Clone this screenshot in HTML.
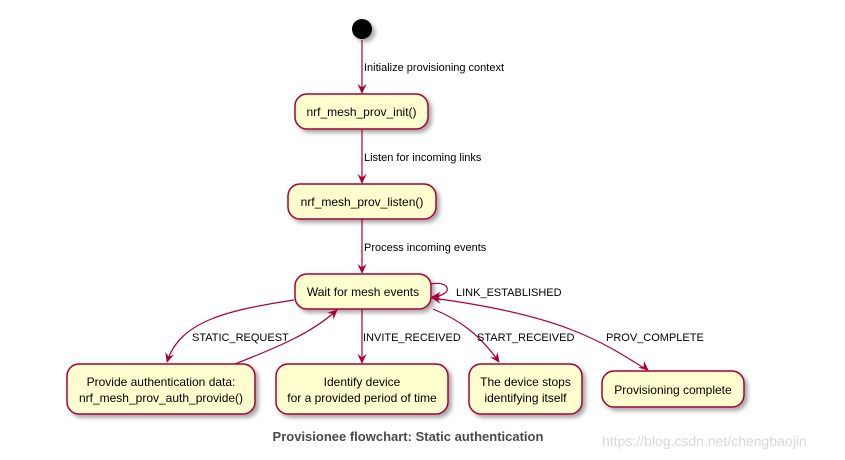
<!DOCTYPE html>
<html><head><meta charset="utf-8"><style>
html,body{margin:0;padding:0;background:#fff;width:845px;height:460px;overflow:hidden}
svg{display:block}
text{font-family:"Liberation Sans",sans-serif;font-size:11px;fill:#000}
.n{font-size:12px}
</style></head><body>
<svg width="845" height="460" viewBox="0 0 845 460">
<defs>
<filter id="sh" x="-20%" y="-20%" width="140%" height="160%"><feDropShadow dx="3" dy="3" stdDeviation="2" flood-color="#000" flood-opacity="0.35"/></filter>
<marker id="a" viewBox="0 0 12 12" refX="10" refY="6" markerWidth="11" markerHeight="11" orient="auto" markerUnits="userSpaceOnUse"><path d="M0,1 L11,6 L0,11 L4,6 Z" fill="#A80036"/></marker>
</defs>
<g fill="#FEFECE" stroke="#A80036" stroke-width="1.5" filter="url(#sh)">
<circle cx="362" cy="29" r="10" fill="#000" stroke="none"/>
<rect x="295" y="94" width="133" height="35" rx="12"/>
<rect x="288" y="184" width="148" height="35" rx="12"/>
<rect x="295" y="274" width="136" height="35" rx="12"/>
<rect x="67" y="364" width="188" height="50" rx="12"/>
<rect x="276" y="364" width="172" height="50" rx="12"/>
<rect x="469" y="364" width="113" height="50" rx="12"/>
<rect x="602" y="371" width="142" height="36" rx="12"/>
</g>
<g stroke="#A80036" stroke-width="1.2" fill="none" marker-end="url(#a)">
<path d="M362,40 L362,93"/>
<path d="M362,129 L362,183"/>
<path d="M362,219 L362,273"/>
<path d="M362,309 L362,363"/>
<path d="M431,284 C450,280 455,295 432,297"/>
<path d="M294,300 C230,310 180,320 167,362"/>
<path d="M235,364 C270,350 310,335 337,310"/>
<path d="M433,309 C460,320 480,335 499,362"/>
<path d="M647,370 C600,340 560,315 432,298"/>
<path d="M450,300 C540,310 600,330 648,370" marker-end="url(#a)" stroke="none"/>
</g>
<path d="M440,299 L432,298 L439,294" stroke="#A80036" fill="none" stroke-width="1.2"/>
<text x="364" y="71">Initialize provisioning context</text>
<text x="364" y="161">Listen for incoming links</text>
<text x="364" y="251">Process incoming events</text>
<text x="456" y="296">LINK_ESTABLISHED</text>
<text x="192" y="341">STATIC_REQUEST</text>
<text x="363" y="341">INVITE_RECEIVED</text>
<text x="477" y="341">START_RECEIVED</text>
<text x="606" y="341">PROV_COMPLETE</text>
<g class="n" text-anchor="middle">
<text class="n" x="361.5" y="116">nrf_mesh_prov_init()</text>
<text class="n" x="362" y="206">nrf_mesh_prov_listen()</text>
<text class="n" x="363" y="296">Wait for mesh events</text>
<text class="n" x="161" y="386">Provide authentication data:</text>
<text class="n" x="161" y="402">nrf_mesh_prov_auth_provide()</text>
<text class="n" x="362" y="386">Identify device</text>
<text class="n" x="362" y="402">for a provided period of time</text>
<text class="n" x="525.5" y="386">The device stops</text>
<text class="n" x="525.5" y="402">identifying itself</text>
<text class="n" x="673" y="394">Provisioning complete</text>
<text x="408" y="441" style="font-size:13px;font-weight:bold;fill:#4a4a4a">Provisionee flowchart: Static authentication</text>
</g>
<text x="602" y="446" style="font-size:14px;fill:#d8d8d8">https://blog.csdn.net/chengbaojin</text>
</svg>
</body></html>
